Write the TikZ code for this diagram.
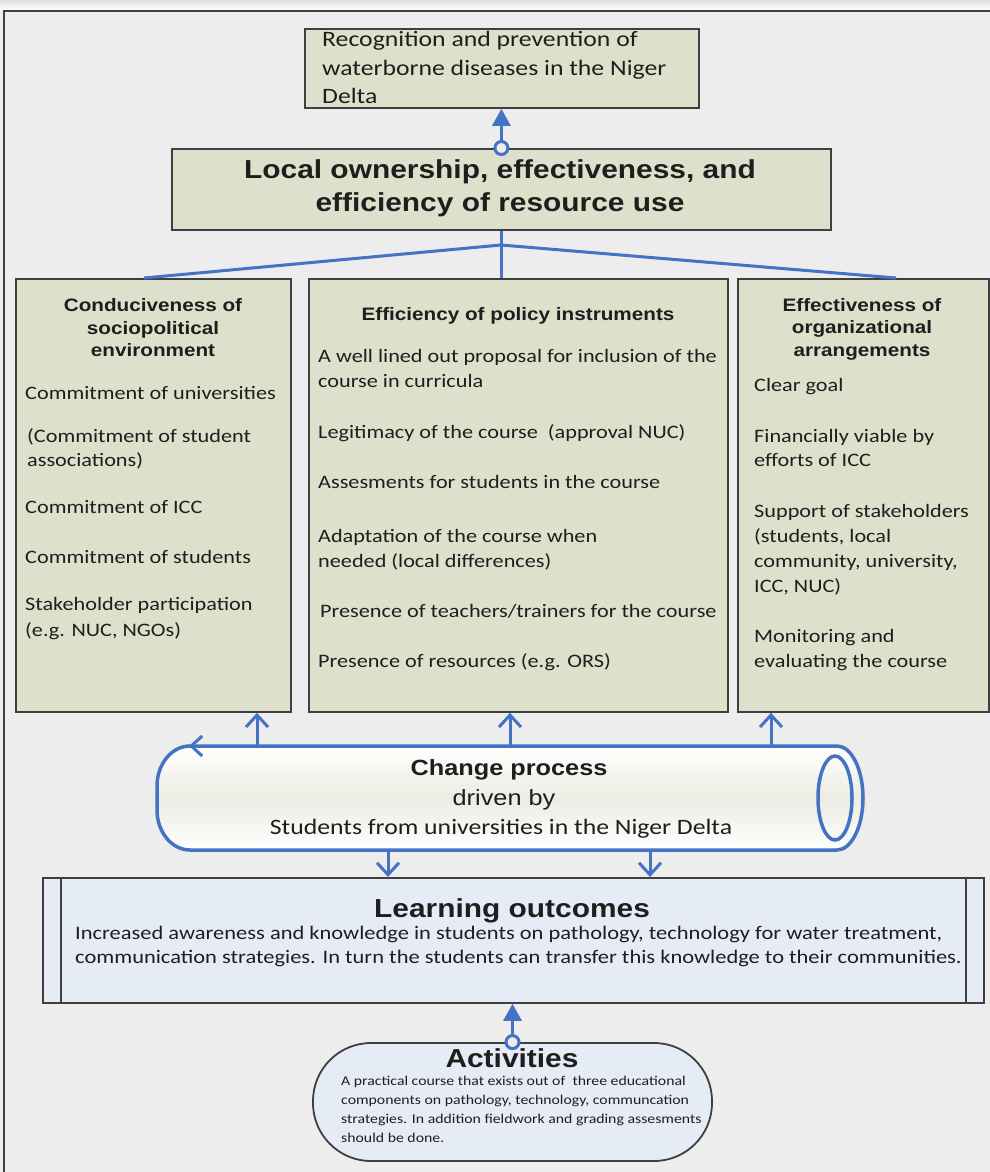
\documentclass[tikz,border=0pt]{standalone}
\usepackage{fontspec}
\setmainfont{Carlito}[FakeStretch=1.17]
\newfontfamily\arialf{Liberation Sans}[FakeStretch=1.15]
\usetikzlibrary{arrows.meta}
\definecolor{bgcol}{HTML}{EDEDED}
\definecolor{olive}{HTML}{DDE1CB}
\definecolor{paleblue}{HTML}{E6ECF6}
\definecolor{flowblue}{HTML}{4472C4}
\definecolor{edge}{HTML}{3F3F3F}
\definecolor{ink}{HTML}{1E1E1E}
\definecolor{cylmid}{HTML}{ECECE3}

\begin{document}
\begin{tikzpicture}[x=1pt,y=-1pt,
  olivebox/.style={draw=edge, line width=1.8pt, fill=olive, inner sep=0pt, anchor=north west},
  bluebox/.style={draw=edge, line width=1.8pt, fill=paleblue, inner sep=0pt},
  body/.style={font=\fontsize{19}{25}\selectfont, text=ink, anchor=base west, inner sep=0pt},
  heading/.style={font=\arialf\bfseries\fontsize{18}{22.5}\selectfont, text=ink, align=center, inner sep=0pt},
  bighead/.style={font=\arialf\bfseries\fontsize{26}{33}\selectfont, text=ink, align=center, inner sep=0pt},
  flow/.style={draw=flowblue, line width=3pt},
  barb/.style={flow, -{Straight Barb[length=12pt,width=22pt]}},
  solidhead/.style={flow, -{Triangle[length=17pt,width=18pt]}},
  ring/.style={draw=flowblue, line width=3pt, fill=bgcol}
]
\useasboundingbox (0,0) rectangle (990,1172);

% page background and frame
\fill[bgcol] (0,0) rectangle (990,1172);
\shade[top color=gray!25, bottom color=white] (0,0) rectangle (990,10);
\draw[edge, line width=2pt] (4,1172) -- (4,11.5) -- (990,11.5);

% goal box
\node[olivebox, minimum width=394, minimum height=79] (goal) at (304,28) {};
\node[body, font=\fontsize{22}{28}\selectfont] (g1) at (322,47) {Recognition and prevention of};
\node[body, font=\fontsize{22}{28}\selectfont] (g2) at (322,75) {waterborne diseases in the Niger};
\node[body, font=\fontsize{22}{28}\selectfont] (g3) at (322,103) {Delta};

% ownership box
\node[olivebox, minimum width=659, minimum height=81] (own) at (171,148) {};
\node[bighead] (ownt) at (500,188) {Local ownership, effectiveness, and\\efficiency of resource use};

\draw[solidhead] (own.north) -- (own.north |- goal.south);
\draw[ring] (own.north) circle[radius=6.5];

% three pillars
\node[olivebox, minimum width=275, minimum height=433] (leftbox) at (15,278) {};
\node[olivebox, minimum width=419, minimum height=433] (midbox) at (308,278) {};
\node[olivebox, minimum width=251, minimum height=433] (rightbox) at (737,278) {};

\coordinate (hub) at (501,245);
\coordinate (tl) at (144,278);
\coordinate (tr) at (896,278);
\draw[flow] (own.south) -- (own.south |- midbox.north);
\draw[flow] (tl) -- (hub) -- (tr);

\node[heading] (lt) at (153,328) {Conduciveness of\\sociopolitical\\environment};
\node[heading] (mt) at (518,316) {Efficiency of policy instruments};
\node[heading] (rt) at (862,329) {Effectiveness of\\organizational\\arrangements};

\node[body] (l1) at (25,399) {Commitment of universities};
\node[body] (l2) at (27,442) {(Commitment of student};
\node[body] (l3) at (27,466) {associations)};
\node[body] (l4) at (25,513) {Commitment of ICC};
\node[body] (l5) at (25,563) {Commitment of students};
\node[body] (l6) at (25,610) {Stakeholder participation};
\node[body] (l7) at (25,636) {(e.g. NUC, NGOs)};

\node[body] (m1) at (318,362) {A well lined out proposal for inclusion of the};
\node[body] (m2) at (318,387) {course in curricula};
\node[body] (m3) at (318,438) {Legitimacy of the course\ \ (approval NUC)};
\node[body] (m4) at (318,488) {Assesments for students in the course};
\node[body] (m5) at (318,542) {Adaptation of the course when};
\node[body] (m6) at (318,567) {needed (local differences)};
\node[body] (m7) at (320,617) {Presence of teachers/trainers for the course};
\node[body] (m8) at (318,667) {Presence of resources (e.g. ORS)};

\node[body] (r1) at (754,391) {Clear goal};
\node[body] (r2) at (754,442) {Financially viable by};
\node[body] (r3) at (754,466) {efforts of ICC};
\node[body] (r4) at (754,517) {Support of stakeholders};
\node[body] (r5) at (754,542) {(students, local};
\node[body] (r6) at (754,567) {community, university,};
\node[body] (r7) at (754,592) {ICC, NUC)};
\node[body] (r8) at (754,642) {Monitoring and};
\node[body] (r9) at (754,667) {evaluating the course};

% change process cylinder
\path[top color=white, bottom color=white, middle color=cylmid]
  (190,746) -- (837,746) arc[start angle=-90, end angle=90, x radius=26, y radius=52]
  -- (190,850) arc[start angle=90, end angle=180, x radius=33, y radius=40]
  -- (157,786) arc[start angle=180, end angle=270, x radius=33, y radius=40] -- cycle;
\draw[flow, line width=3.5pt]
  (190,746) -- (837,746) arc[start angle=-90, end angle=90, x radius=26, y radius=52]
  -- (190,850) arc[start angle=90, end angle=180, x radius=33, y radius=40]
  -- (157,786) arc[start angle=180, end angle=270, x radius=33, y radius=40] -- cycle;
\draw[flow, line width=3.5pt] (835,798) ellipse[x radius=17, y radius=42];
\coordinate (cstart) at (215,746);
\coordinate (cend) at (189,746);
\draw[flow, -{Straight Barb[length=11pt,width=20pt]}] (cstart) -- (cend);

\node[font=\arialf\bfseries\fontsize{22}{26}\selectfont, text=ink, inner sep=0pt] (cp1) at (509,770) {Change process};
\node[font=\arialf\fontsize{22}{26}\selectfont, text=ink, inner sep=0pt] (cp2) at (504,800) {driven by};
\node[font=\fontsize{22}{26}\selectfont, text=ink, inner sep=0pt] (cp3) at (501,829) {Students from universities in the Niger Delta};

\coordinate (cu1) at (257,746);
\coordinate (cu2) at (510,746);
\coordinate (cu3) at (771,746);
\draw[barb] (cu1) -- (cu1 |- leftbox.south);
\draw[barb] (cu2) -- (cu2 |- midbox.south);
\draw[barb] (cu3) -- (cu3 |- rightbox.south);

% learning outcomes
\node[bluebox, anchor=north west, minimum width=941, minimum height=125] (learn) at (42,877) {};
\draw[edge, line width=1.8pt] ([xshift=19pt]learn.north west) -- ([xshift=19pt]learn.south west);
\draw[edge, line width=1.8pt] ([xshift=-19pt]learn.north east) -- ([xshift=-19pt]learn.south east);
\node[bighead] (lot) at (512,911) {Learning outcomes};
\node[body, font=\fontsize{19.2}{24}\selectfont] (lo1) at (75,939) {Increased awareness and knowledge in students on pathology, technology for water treatment,};
\node[body, font=\fontsize{19.2}{24}\selectfont] (lo2) at (75,963) {communication strategies. In turn the students can transfer this knowledge to their communities.};

\coordinate (cd1) at (388,850);
\coordinate (cd2) at (650,850);
\draw[barb] (cd1) -- (cd1 |- learn.north);
\draw[barb] (cd2) -- (cd2 |- learn.north);

% activities
\node[bluebox, rounded corners=58pt, minimum width=399, minimum height=118] (act) at (512.5,1102) {};
\node[bighead] (actt) at (512,1058) {Activities};
\node[body, font=\fontsize{13.5}{19}\selectfont] (a1) at (341,1085) {A practical course that exists out of\ \ three educational};
\node[body, font=\fontsize{13.5}{19}\selectfont] (a2) at (341,1104) {components on pathology, technology, communcation};
\node[body, font=\fontsize{13.5}{19}\selectfont] (a3) at (341,1123) {strategies. In addition fieldwork and grading assesments};
\node[body, font=\fontsize{13.5}{19}\selectfont] (a4) at (341,1142) {should be done.};

\draw[solidhead] (act.north) -- (act.north |- learn.south);
\draw[ring] (act.north) circle[radius=6.5];
\end{tikzpicture}
\end{document}
